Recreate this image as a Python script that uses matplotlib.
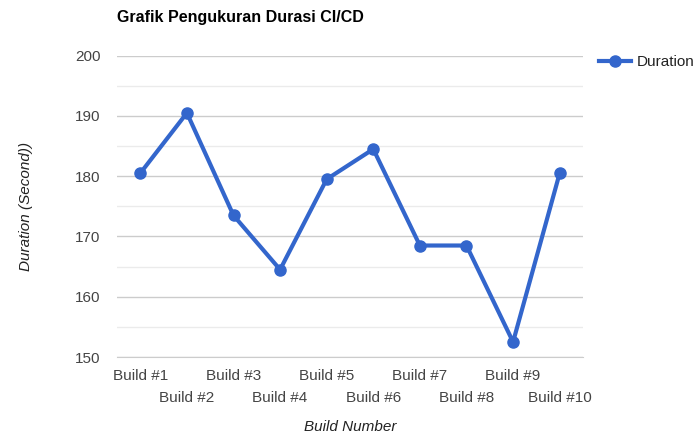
import matplotlib.pyplot as plt
from matplotlib.ticker import MultipleLocator

builds = ['Build #1', 'Build #2', 'Build #3', 'Build #4', 'Build #5',
          'Build #6', 'Build #7', 'Build #8', 'Build #9', 'Build #10']
duration = [180.5, 190.5, 173.5, 164.5, 179.5, 184.5, 168.5, 168.5, 152.5, 180.5]

plt.rcParams['font.family'] = ['Liberation Sans', 'DejaVu Sans']

fig = plt.figure(figsize=(6.99, 4.34), dpi=100)
ax = fig.add_axes([0.1674, 0.1774, 0.6666, 0.6943])

x = list(range(len(builds)))
ax.plot(x, duration, color='#3366cc', linewidth=3, marker='o', markersize=8,
        label='Duration', zorder=3)

ax.set_xlim(-0.5, len(builds) - 0.5)
ax.set_ylim(150, 200)
ax.yaxis.set_major_locator(MultipleLocator(10))
ax.yaxis.set_minor_locator(MultipleLocator(5))
ax.grid(axis='y', which='major', color='#cccccc', linewidth=1)
ax.grid(axis='y', which='minor', color='#ebebeb', linewidth=1)
ax.set_axisbelow(True)
for s in ['top', 'right', 'left']:
    ax.spines[s].set_visible(False)
ax.spines['bottom'].set_color('#cccccc')
ax.tick_params(axis='both', which='both', length=0, labelsize=11, labelcolor='#444444')
ax.tick_params(axis='y', pad=12)

ax.set_xticks(x)
ax.set_xticklabels(['' for _ in builds])
for i, lab in enumerate(builds):
    off = -26 if i % 2 == 0 else -48
    ax.annotate(lab, xy=(i, 150), xycoords='data', xytext=(0, off),
                textcoords='offset pixels', ha='center', va='bottom',
                fontsize=11, color='#444444')

ax.set_ylabel('Duration (Second))', fontstyle='italic', fontsize=11,
              color='#222222', labelpad=30)
fig.text(0.501, 0.0, 'Build Number', fontstyle='italic', fontsize=11,
         color='#222222', ha='center', va='bottom')

fig.text(0.168, 0.942, 'Grafik Pengukuran Durasi CI/CD', fontweight='bold',
         fontsize=11.5, color='#000000', ha='left', va='bottom')

fig.legend(loc='center left', bbox_to_anchor=(0.848, 0.857), frameon=False,
           fontsize=11, handlelength=2.1, handletextpad=0.4, borderaxespad=0,
           labelcolor='#222222')

fig.savefig('out.png', dpi=100)
